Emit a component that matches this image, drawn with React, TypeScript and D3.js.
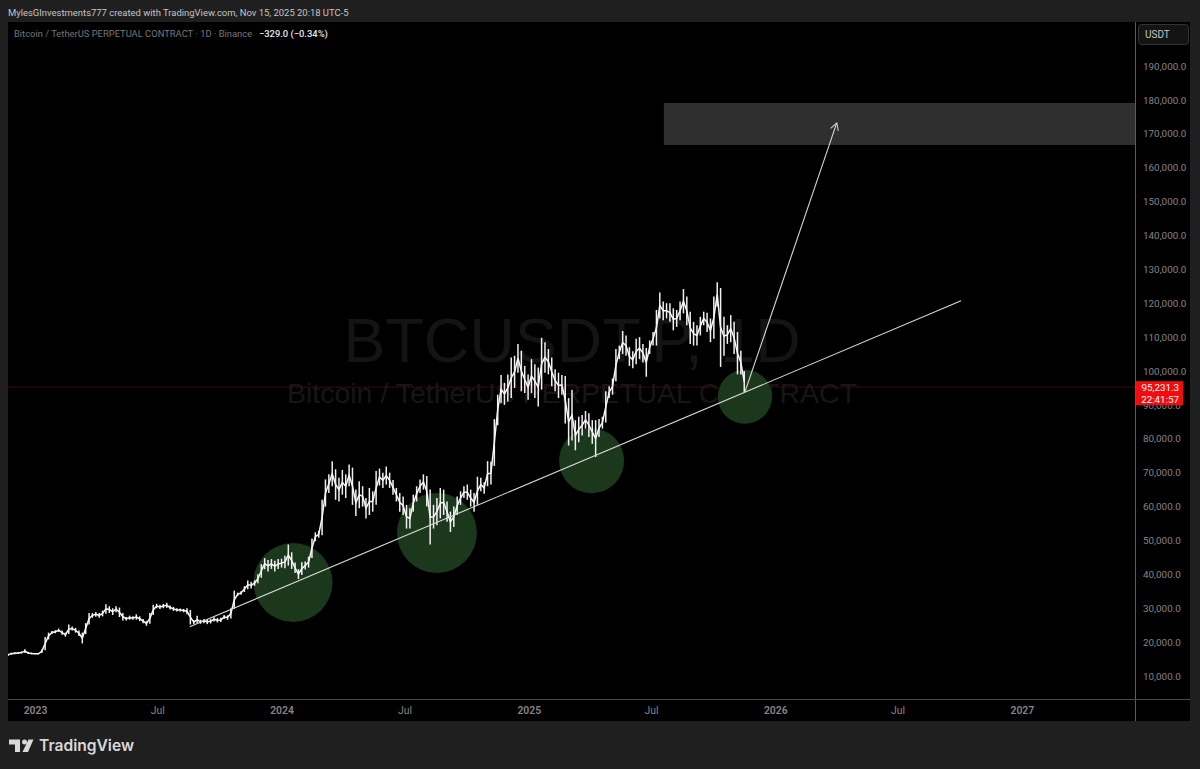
import React, { useEffect, useRef } from "react";
import * as d3 from "d3";

const WIDTH = 1200;
const HEIGHT = 769;

// 5-day bars, prices in thousands of USDT
const firstBar = new Date(2022, 10, 22);
const barDays = 5;

const highs = [
  16.6, 16.9, 17.0, 17.1, 17.2, 17.9, 17.1, 16.9, 16.7, 16.7,
  17.8, 21.5, 22.8, 23.3, 23.5, 24.0, 23.4, 22.8, 25.2, 24.6,
  24.2, 23.4, 22.8, 25.6, 28.6, 28.6, 28.9, 28.6, 29.3, 31.2,
  30.6, 30.0, 30.6, 30.2, 28.6, 27.4, 27.8, 27.6, 28.2, 27.6,
  26.8, 26.2, 28.6, 31.0, 31.3, 31.0, 31.3, 31.6, 30.8, 30.4,
  30.0, 29.9, 29.8, 30.0, 29.5, 26.5, 27.8, 26.6, 26.8, 26.7,
  26.8, 27.3, 27.1, 27.2, 28.0, 27.9, 30.0, 35.2, 34.6, 35.0,
  36.5, 38.2, 37.8, 38.2, 40.0, 43.0, 44.8, 44.2, 44.5, 44.0,
  44.5, 44.6, 45.5, 48.8, 46.5, 43.5, 41.5, 43.6, 43.8, 45.2,
  50.6, 52.4, 52.8, 62.0, 68.0, 69.5, 73.4, 71.0, 68.5, 70.8,
  69.5, 72.4, 71.5, 65.0, 67.5, 66.0, 62.5, 65.5, 64.5, 70.5,
  71.2, 70.0, 71.8, 70.0, 67.8, 65.5, 64.0, 63.0, 60.5, 59.5,
  63.5, 66.0, 68.0, 69.5, 69.0, 65.0, 60.5, 62.5, 65.5, 65.0,
  61.5, 58.5, 60.0, 63.0, 64.5, 66.0, 66.5, 65.0, 64.0, 68.8,
  68.5, 67.2, 73.4, 73.2, 85.8, 93.0, 98.8, 96.5, 99.0, 104.0,
  104.5, 108.0, 106.0, 101.5, 99.0, 103.5, 102.0, 101.0, 109.8, 108.5,
  106.5, 104.0, 100.5, 99.5, 98.8, 98.5, 92.0, 94.5, 85.5, 86.5,
  87.0, 88.2, 87.5, 85.5, 85.5, 85.8, 86.5, 94.0, 95.5, 97.8,
  106.5, 107.5, 111.8, 110.5, 107.0, 105.8, 109.5, 110.0, 108.0, 106.8,
  109.0, 111.5, 118.0, 123.2, 120.5, 120.0, 120.0, 118.5, 118.0, 120.5,
  124.2, 122.0, 117.5, 114.5, 113.5, 116.0, 117.5, 117.2, 115.5, 122.0,
  126.2, 124.5, 116.0, 113.5, 116.5, 114.5, 111.5, 106.0, 100.0,
];

const lows = [
  15.9, 16.3, 16.4, 16.5, 16.6, 16.8, 16.5, 16.4, 16.4, 16.4,
  16.8, 17.6, 20.8, 22.4, 22.6, 23.0, 22.2, 21.6, 22.4, 23.4,
  22.8, 21.8, 19.6, 22.4, 25.2, 27.2, 27.5, 27.2, 27.6, 28.4,
  28.6, 28.0, 28.8, 27.4, 26.4, 26.4, 26.6, 26.6, 26.6, 26.2,
  25.6, 24.8, 25.4, 28.0, 30.0, 29.8, 30.0, 30.1, 29.6, 29.2,
  29.0, 29.0, 28.8, 28.2, 25.2, 25.3, 25.5, 25.4, 25.6, 25.3,
  25.5, 26.1, 25.8, 25.9, 26.8, 26.6, 27.0, 29.8, 33.6, 34.0,
  34.8, 35.6, 35.8, 36.6, 37.4, 39.0, 41.5, 40.8, 41.6, 40.8,
  41.6, 42.0, 41.8, 42.6, 41.6, 40.4, 38.6, 39.8, 41.4, 42.0,
  44.8, 49.8, 50.8, 51.5, 60.0, 64.0, 66.0, 62.0, 61.5, 63.5,
  62.5, 66.0, 60.5, 57.2, 59.5, 60.0, 56.5, 57.5, 58.5, 60.5,
  66.2, 65.5, 66.5, 65.5, 63.5, 61.5, 58.5, 57.5, 53.5, 53.5,
  58.5, 61.5, 64.0, 65.0, 60.0, 48.8, 53.5, 54.5, 56.5, 57.5,
  55.5, 52.5, 54.0, 57.5, 60.5, 62.5, 62.0, 60.0, 58.5, 60.5,
  64.5, 63.8, 66.0, 66.5, 72.0, 84.0, 90.5, 90.0, 91.0, 92.0,
  95.0, 99.5, 94.0, 93.5, 91.5, 93.5, 92.0, 89.5, 94.5, 99.5,
  99.0, 95.5, 94.0, 92.0, 93.0, 84.5, 78.0, 79.5, 76.6, 79.0,
  81.0, 83.0, 80.5, 78.5, 74.6, 80.5, 83.0, 84.8, 92.0, 93.0,
  97.0, 103.5, 105.0, 104.5, 101.5, 100.8, 102.0, 103.5, 102.5, 98.3,
  105.0, 107.5, 107.5, 115.5, 115.0, 115.5, 114.5, 112.0, 113.0, 115.0,
  117.0, 113.5, 108.0, 107.5, 107.5, 110.5, 113.5, 111.5, 108.5, 109.5,
  119.0, 101.2, 104.5, 108.0, 108.5, 105.0, 99.0, 99.0, 93.8,
];

const priceTicks = [
  10, 20, 30, 40, 50, 60, 70, 80, 90, 100, 110, 120, 130, 140, 150, 160, 170,
  180, 190,
];
const timeTicks = [
  new Date(2023, 0, 1),
  new Date(2023, 6, 1),
  new Date(2024, 0, 1),
  new Date(2024, 6, 1),
  new Date(2025, 0, 1),
  new Date(2025, 6, 1),
  new Date(2026, 0, 1),
  new Date(2026, 6, 1),
  new Date(2027, 0, 1),
];

const lastPrice = 95.2313;

// drawings on the chart: [date, price]
const trendLine: [Date, number][] = [
  [new Date(2023, 7, 18), 24.5],
  [new Date(2026, 9, 3), 120.7],
];
const arrowLine: [Date, number][] = [
  [new Date(2025, 10, 17), 93.8],
  [new Date(2026, 3, 2), 173.2],
];
const targetBoxStart = new Date(2025, 6, 20);
const targetBoxPrices = [179.1, 166.7];
const circleDates = [
  new Date(2024, 0, 18),
  new Date(2024, 7, 18),
  new Date(2025, 3, 4),
  new Date(2025, 10, 17),
];
const circlePrices = [37.6, 52.2, 73.5, 92.4];
const circleSpans = [11.65, 11.8, 9.6, 8.0];

const App = () => {
  const svgRef = useRef<SVGSVGElement | null>(null);

  useEffect(() => {
    const paneLeft = 8;
    const paneRight = 1136;
    const paneTop = 22;
    const paneBottom = 700;
    const frameRight = 1190;
    const frameBottom = 721;

    const svg = d3.select(svgRef.current);
    svg.selectAll("*").remove();

    const x = d3
      .scaleTime()
      .domain([new Date(2022, 10, 22), new Date(2027, 5, 19)])
      .range([paneLeft, paneRight]);
    const y = d3.scaleLinear().domain([190, 10]).range([66, 676]);

    const font = "Roboto, sans-serif";
    const axisColor = "#858585";
    const lineColor = "#d8d8d0";

    svg
      .append("rect")
      .attr("width", WIDTH)
      .attr("height", HEIGHT)
      .attr("fill", "#1f1f1f");
    svg
      .append("rect")
      .attr("x", paneLeft)
      .attr("y", paneTop)
      .attr("width", frameRight - paneLeft)
      .attr("height", frameBottom - paneTop)
      .attr("fill", "#000");

    svg
      .append("defs")
      .append("clipPath")
      .attr("id", "pane")
      .append("rect")
      .attr("x", paneLeft)
      .attr("y", paneTop)
      .attr("width", paneRight - paneLeft)
      .attr("height", paneBottom - paneTop);

    const marker = svg
      .select("defs")
      .append("marker")
      .attr("id", "arrow")
      .attr("markerUnits", "userSpaceOnUse")
      .attr("viewBox", "-9 -6 10 12")
      .attr("refX", 0)
      .attr("refY", 0)
      .attr("markerWidth", 10)
      .attr("markerHeight", 12)
      .attr("orient", "auto");
    marker
      .append("path")
      .attr("d", "M-7,-4 L0,0 L-7,4")
      .attr("fill", "none")
      .attr("stroke", lineColor)
      .attr("stroke-width", 1);

    const pane = svg.append("g").attr("clip-path", "url(#pane)");

    // watermark
    pane
      .append("text")
      .attr("x", (paneLeft + paneRight) / 2)
      .attr("y", 362)
      .attr("text-anchor", "middle")
      .attr("font-family", "'Liberation Sans', sans-serif")
      .attr("font-size", 63)
      .attr("fill", "#141414")
      .text("BTCUSDT.P, 1D");
    pane
      .append("text")
      .attr("x", (paneLeft + paneRight) / 2)
      .attr("y", 403)
      .attr("text-anchor", "middle")
      .attr("font-family", "'Liberation Sans', sans-serif")
      .attr("font-size", 28.5)
      .attr("fill", "#161616")
      .text("Bitcoin / TetherUS PERPETUAL CONTRACT");

    pane
      .append("rect")
      .attr("x", x(targetBoxStart))
      .attr("y", y(targetBoxPrices[0]))
      .attr("width", paneRight - x(targetBoxStart))
      .attr("height", y(targetBoxPrices[1]) - y(targetBoxPrices[0]))
      .attr("fill", "#2f2f2f");

    pane
      .append("line")
      .attr("x1", paneLeft)
      .attr("x2", paneRight)
      .attr("y1", y(lastPrice))
      .attr("y2", y(lastPrice))
      .attr("stroke", "#4a1212")
      .attr("stroke-width", 1)
      .attr("stroke-dasharray", "1 1");

    pane
      .selectAll("circle")
      .data(circleDates)
      .enter()
      .append("circle")
      .attr("cx", (d) => x(d))
      .attr("cy", (d, i) => y(circlePrices[i]))
      .attr("r", (d, i) => y(circlePrices[i]) - y(circlePrices[i] + circleSpans[i]))
      .attr("fill", "#1b371c");

    // price bars
    const barX = (i: number) => x(d3.timeDay.offset(firstBar, i * barDays));

    pane
      .append("g")
      .selectAll("line")
      .data(highs)
      .enter()
      .append("line")
      .attr("x1", (d, i) => barX(i))
      .attr("x2", (d, i) => barX(i))
      .attr("y1", (d) => y(d))
      .attr("y2", (d, i) => y(lows[i]))
      .attr("stroke", "#f0f0f0")
      .attr("stroke-width", 1.5);

    // run through the bar centres stands in for the candle bodies
    pane
      .append("path")
      .attr(
        "d",
        d3
          .line<number>()
          .x((d, i) => barX(i))
          .y((d, i) => y((d + lows[i]) / 2))(highs)
      )
      .attr("fill", "none")
      .attr("stroke", "#f6f6f6")
      .attr("stroke-width", 1.5);

    const drawnLine = d3
      .line<[Date, number]>()
      .x((d) => x(d[0]))
      .y((d) => y(d[1]));

    pane
      .append("path")
      .attr("d", drawnLine(trendLine))
      .attr("fill", "none")
      .attr("stroke", lineColor)
      .attr("stroke-width", 1.1);
    pane
      .append("path")
      .attr("d", drawnLine(arrowLine))
      .attr("fill", "none")
      .attr("stroke", lineColor)
      .attr("stroke-width", 1.1)
      .attr("marker-end", "url(#arrow)");

    // axes
    svg
      .append("line")
      .attr("x1", paneRight - 0.5)
      .attr("x2", paneRight - 0.5)
      .attr("y1", paneTop)
      .attr("y2", frameBottom)
      .attr("stroke", "#5c5c5c");
    svg
      .append("line")
      .attr("x1", paneLeft)
      .attr("x2", frameRight)
      .attr("y1", paneBottom - 0.5)
      .attr("y2", paneBottom - 0.5)
      .attr("stroke", "#4c4c4c");

    const yAxis = svg
      .append("g")
      .attr("transform", `translate(${paneRight},0)`)
      .call(
        d3
          .axisRight(y)
          .tickValues(priceTicks)
          .tickSize(0)
          .tickPadding(7)
          .tickFormat((d) => d3.format(",.1f")(+d * 1000))
      );
    yAxis.select(".domain").remove();
    yAxis
      .selectAll("text")
      .attr("font-family", font)
      .attr("font-size", 9.9)
      .attr("fill", axisColor);

    const xAxis = svg
      .append("g")
      .attr("transform", `translate(0,${paneBottom})`)
      .call(
        d3
          .axisBottom(x)
          .tickValues(timeTicks)
          .tickSize(0)
          .tickPadding(7)
          .tickFormat((d) =>
            (d as Date).getMonth() === 0
              ? d3.timeFormat("%Y")(d as Date)
              : d3.timeFormat("%b")(d as Date)
          )
      );
    xAxis.select(".domain").remove();
    xAxis
      .selectAll("text")
      .attr("font-family", font)
      .attr("font-size", 10.4)
      .attr("fill", axisColor)
      .attr("font-weight", (d) => ((d as Date).getMonth() === 0 ? 600 : 400));

    // last price tag
    svg
      .append("rect")
      .attr("x", paneRight)
      .attr("y", y(lastPrice) - 6)
      .attr("width", 47)
      .attr("height", 24)
      .attr("fill", "#f20d0d");
    const tag = svg
      .append("text")
      .attr("text-anchor", "end")
      .attr("font-family", font)
      .attr("font-size", 9.8)
      .attr("fill", "#fff");
    tag
      .append("tspan")
      .attr("x", paneRight + 43)
      .attr("y", y(lastPrice) + 4)
      .text(d3.format(",.1f")(lastPrice * 1000));
    tag
      .append("tspan")
      .attr("x", paneRight + 43)
      .attr("y", y(lastPrice) + 16)
      .text("22:41:57");

    // currency button
    svg
      .append("rect")
      .attr("x", 1138.5)
      .attr("y", 24.5)
      .attr("width", 50)
      .attr("height", 20)
      .attr("rx", 3)
      .attr("fill", "#141414")
      .attr("stroke", "#333");
    svg
      .append("text")
      .attr("x", 1145)
      .attr("y", 38)
      .attr("font-family", font)
      .attr("font-size", 10)
      .attr("fill", "#c8c8c8")
      .text("USDT");

    // header and legend
    svg
      .append("text")
      .attr("x", 8)
      .attr("y", 16)
      .attr("font-family", font)
      .attr("font-size", 9.45)
      .attr("fill", "#c4c4c4")
      .text("MylesGInvestments777 created with TradingView.com, Nov 15, 2025 20:18 UTC-5");
    svg
      .append("text")
      .attr("x", 14)
      .attr("y", 37)
      .attr("font-family", font)
      .attr("font-size", 9.4)
      .attr("fill", "#777")
      .text("Bitcoin / TetherUS PERPETUAL CONTRACT · 1D · Binance");
    svg
      .append("text")
      .attr("x", 259)
      .attr("y", 37)
      .attr("font-family", font)
      .attr("font-size", 9.4)
      .attr("font-weight", 500)
      .attr("fill", "#e6e6e6")
      .text("−329.0 (−0.34%)");

    // TradingView logo
    const logo = svg.append("g").attr("fill", "#d9d9d9");
    logo
      .append("path")
      .attr("d", "M9,739.5 H20 V752 H15 V744.5 H9 Z M28.5,739.5 H33.5 L28,752 H22.5 Z");
    logo.append("circle").attr("cx", 24.5).attr("cy", 742).attr("r", 2.5);
    logo
      .append("text")
      .attr("x", 39)
      .attr("y", 751)
      .attr("font-family", "Inter, sans-serif")
      .attr("font-size", 15.6)
      .attr("font-weight", 600)
      .text("TradingView");
  }, []);

  return (
    <svg
      ref={svgRef}
      width={WIDTH}
      height={HEIGHT}
      style={{ position: "absolute", left: 0, top: 0, display: "block" }}
    ></svg>
  );
};

export default App;
